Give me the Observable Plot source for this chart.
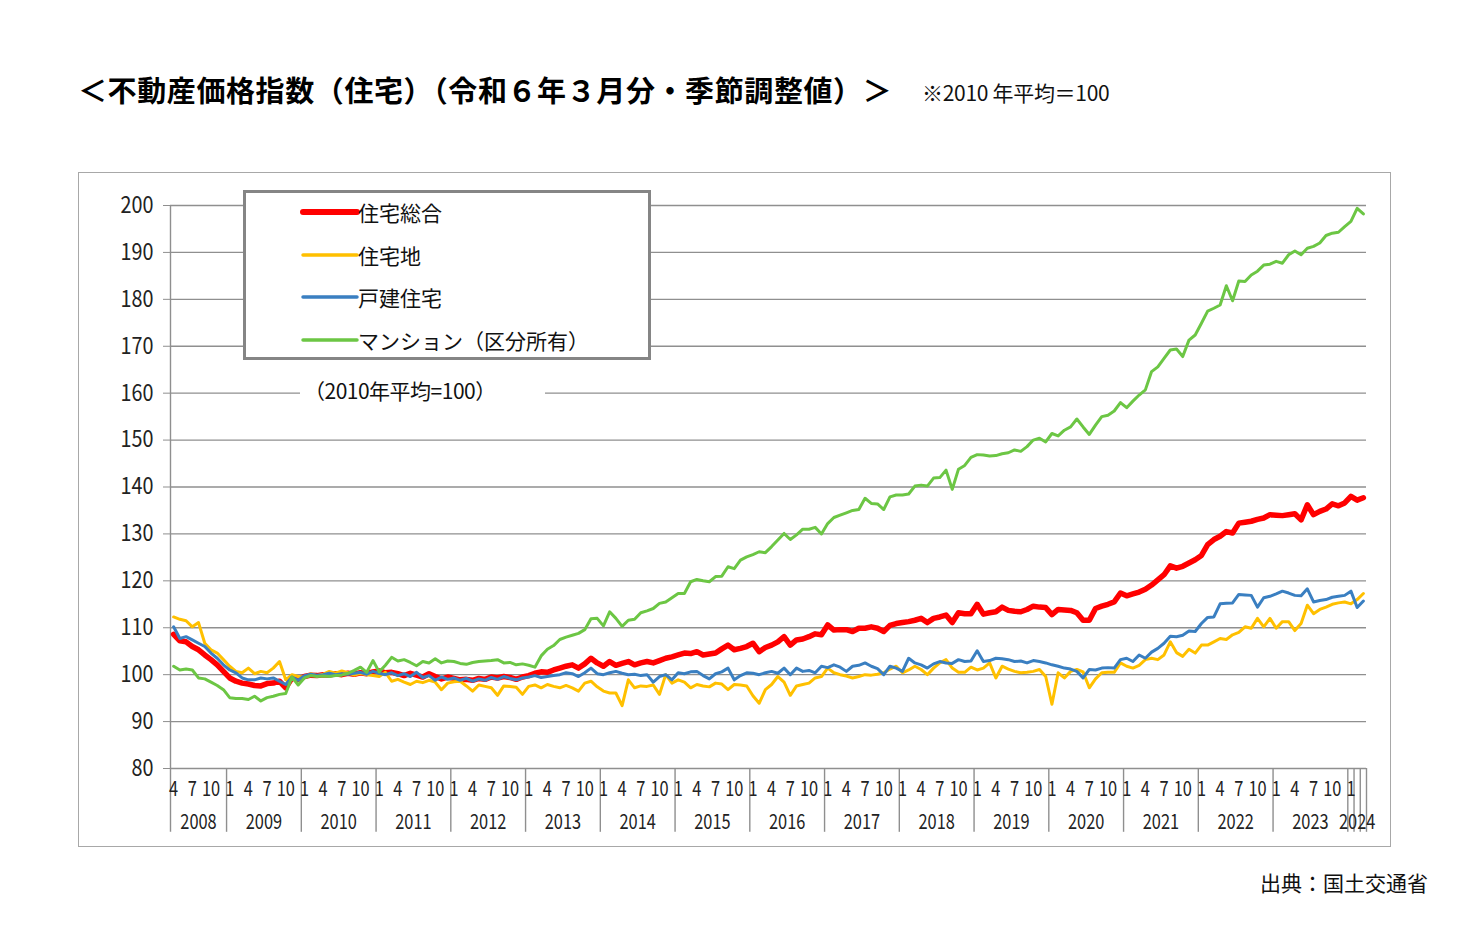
<!DOCTYPE html>
<html>
<head>
<meta charset="utf-8">
<script src="https://cdn.jsdelivr.net/npm/d3@7"></script>
<script src="https://cdn.jsdelivr.net/npm/@observablehq/plot@0.6"></script>
<style>
  body { margin: 0; background: #fff; }
  #page { position: relative; width: 1470px; height: 930px; overflow: hidden; background: #fff; color: #111;
          font-family: "Noto Sans CJK JP", sans-serif; }
  #title { position: absolute; left: 78px; top: 69px; font-family: "Noto Sans CJK JP", sans-serif; font-weight: bold;
           font-size: 29px; line-height: 40px; letter-spacing: 0.6px; white-space: nowrap; color: #000; }
  #note { position: absolute; left: 922px; top: 77px; font-size: 21px; line-height: 30px; white-space: nowrap; letter-spacing: -0.3px; }
  #chart { position: absolute; left: 78px; top: 172px; width: 1313px; height: 675px; }
  #frame { position: absolute; left: 78px; top: 172px; width: 1313px; height: 675px; box-sizing: border-box;
           border: 1.5px solid #a8a8a8; pointer-events: none; }
  #legend { position: absolute; left: 243px; top: 190px; width: 408px; height: 170px; box-sizing: border-box;
            border: 3px solid #858585; background: #fff; }
  .lg-item { position: absolute; left: 0; height: 30px; width: 400px; }
  .lg-item svg { position: absolute; left: 54px; top: 0; }
  .lg-item span { position: absolute; left: 112px; top: 0; font-size: 21px; line-height: 30px; white-space: nowrap; }
  #base { position: absolute; left: 300px; top: 376px; width: 245px; height: 28px; background: #fff; }
  #base span { position: absolute; left: 4px; top: 0; font-size: 21px; line-height: 28px; white-space: nowrap; letter-spacing: -0.5px; }
  #source { position: absolute; left: 1260px; top: 867px; font-size: 21px; line-height: 30px; white-space: nowrap; }
</style>
</head>
<body>
<div id="page">
  <div id="title">＜不動産価格指数（住宅）（令和６年３月分・季節調整値）＞</div>
  <div id="note">※2010 年平均＝100</div>
  <div id="chart"></div>
  <div id="frame"></div>
  <div id="legend"></div>
  <div id="base"><span>（2010年平均=100）</span></div>
  <div id="source">出典：国土交通省</div>
</div>
<script>
// ---- data (monthly, Apr 2008 – Mar 2024, seasonally adjusted, 2010 avg = 100) ----
const startYear = 2008;
const startMonth = 4;

const sogo = [
  108.6,107.2,107.0,106.0,105.3,104.2,103.2,102.1,100.7,99.3,98.6,98.2,
  98.0,97.7,97.6,98.1,98.2,98.6,97.2,99.3,99.0,99.6,99.9,99.8,
  100.0,99.9,100.2,100.0,100.3,100.1,100.4,100.2,100.6,100.8,100.4,100.5,
  100.2,99.8,100.3,99.9,99.5,100.2,99.6,99.1,99.5,99.2,98.9,99.0,
  98.8,99.2,99.0,99.5,99.3,99.6,99.4,99.0,99.5,99.8,100.3,100.6,
  100.5,101.0,101.4,101.8,102.1,101.4,102.3,103.5,102.5,101.8,102.8,102.0,
  102.4,102.8,102.1,102.5,102.8,102.5,103.0,103.5,103.8,104.2,104.6,104.5,
  104.9,104.2,104.4,104.6,105.5,106.3,105.3,105.6,106.0,106.7,104.9,105.8,
  106.3,107.0,108.1,106.3,107.4,107.6,108.1,108.7,108.5,110.6,109.5,109.6,
  109.6,109.2,109.9,109.9,110.2,109.9,109.2,110.5,110.9,111.1,111.3,111.6,
  112.0,111.1,112.0,112.3,112.7,111.1,113.2,113.0,113.0,115.0,112.9,113.2,
  113.4,114.4,113.7,113.5,113.4,113.9,114.6,114.4,114.3,112.8,113.9,113.8,
  113.7,113.2,111.6,111.6,114.1,114.6,115.0,115.5,117.4,116.8,117.2,117.6,
  118.2,119.1,120.2,121.3,123.2,122.7,123.1,123.8,124.5,125.4,127.7,128.8,
  129.5,130.5,130.2,132.3,132.5,132.7,133.1,133.4,134.1,134.0,133.9,134.1,
  134.3,133.0,136.2,134.1,134.8,135.3,136.4,136.0,136.6,138.0,137.2,137.7
];
const takuchi = [
  112.3,111.8,111.5,110.2,111.1,106.7,105.3,104.6,103.2,101.8,100.7,100.4,
  101.4,100.2,100.7,100.4,101.4,102.8,98.9,100.0,99.6,99.5,100.2,99.8,
  100.1,100.7,100.3,100.8,100.4,99.9,100.3,100.0,99.8,99.6,100.5,98.6,
  99.0,98.4,97.9,98.6,98.3,98.8,98.4,96.8,98.2,98.5,98.6,97.6,
  96.5,97.8,97.5,97.2,95.6,97.6,97.5,97.3,95.8,97.5,97.8,97.2,
  97.9,97.5,97.2,97.7,97.2,96.5,98.2,98.6,97.4,96.5,96.1,96.1,
  93.4,98.9,97.2,97.6,97.5,97.8,95.8,100.0,98.2,98.9,98.4,97.2,
  97.9,97.6,97.4,98.2,98.0,96.8,97.9,97.8,97.6,95.5,93.9,96.8,
  97.9,99.6,98.4,95.6,97.6,97.9,98.2,99.3,99.6,101.4,100.4,100.0,
  99.7,99.3,99.6,100.0,99.9,100.1,100.4,101.2,101.8,100.4,101.0,101.8,
  101.1,100.0,101.4,102.5,103.2,101.4,100.5,100.5,101.6,101.0,101.4,102.5,
  99.3,101.8,101.2,100.7,100.4,100.5,100.7,101.1,99.6,93.7,100.4,99.3,
  100.7,101.1,100.6,97.2,99.1,100.4,100.5,100.5,102.5,101.8,101.4,102.0,
  103.2,103.5,103.2,104.2,107.0,104.7,103.9,105.4,104.6,106.3,106.3,107.0,
  107.7,107.5,108.5,109.0,110.2,109.9,112.0,110.2,112.0,109.9,111.3,111.3,
  109.4,110.9,114.8,113.0,113.9,114.4,115.0,115.3,115.5,115.1,116.0,117.3
];
const kodate = [
  110.2,107.7,108.1,107.4,106.7,106.0,104.6,103.5,102.1,101.0,100.4,99.3,
  98.9,98.9,99.3,99.1,99.3,98.6,97.9,99.5,98.8,99.8,100.1,99.9,
  100.0,100.3,100.0,100.2,100.1,100.3,100.5,100.1,100.7,100.3,100.0,100.4,
  99.8,100.2,99.6,100.5,99.4,99.8,98.8,99.5,99.0,99.3,98.8,99.2,
  98.6,99.1,98.8,99.4,99.0,99.6,99.2,98.9,99.3,99.5,99.8,99.4,
  99.6,99.8,100.0,100.4,100.2,99.6,100.4,101.4,100.2,100.0,100.4,100.7,
  100.3,100.0,100.1,99.8,100.0,98.4,99.6,100.0,98.9,100.4,100.2,100.6,
  100.7,99.8,99.1,100.2,100.6,101.4,98.9,99.8,100.4,100.3,100.0,100.4,
  100.7,100.3,101.4,100.0,101.4,100.7,100.9,100.4,101.8,101.5,102.1,101.6,
  100.7,101.8,102.0,102.5,101.8,101.3,100.0,101.8,101.4,100.7,103.5,102.5,
  102.1,101.4,102.3,102.8,102.5,102.4,103.2,102.8,102.9,105.1,102.8,103.0,
  103.5,103.4,103.2,102.8,102.9,102.5,103.0,102.8,102.5,102.1,101.8,101.4,
  101.2,100.7,99.3,101.1,101.0,101.4,101.5,101.4,103.2,103.5,102.8,104.2,
  103.5,104.8,105.6,106.7,108.2,108.1,108.4,109.3,109.2,110.9,112.2,112.3,
  115.1,115.2,115.3,117.1,117.0,116.9,114.4,116.4,116.7,117.2,117.8,117.4,
  116.9,116.8,118.3,115.5,115.8,116.0,116.5,116.7,116.9,117.8,114.3,115.7
];
const mansion = [
  101.8,101.0,101.2,101.0,99.3,99.1,98.4,97.7,96.8,95.1,94.9,94.9,
  94.7,95.4,94.4,95.1,95.4,95.8,96.0,99.5,97.8,99.3,99.8,99.6,
  99.7,99.6,99.8,99.9,100.3,100.9,101.6,100.5,103.0,100.6,102.0,103.7,
  102.9,103.2,102.6,101.9,102.8,102.5,103.4,102.5,102.9,102.8,102.4,102.2,
  102.6,102.8,102.9,103.0,103.2,102.5,102.6,102.1,102.3,102.0,101.6,104.0,
  105.4,106.2,107.5,108.0,108.4,108.8,109.6,111.9,112.0,110.4,113.4,112.0,
  110.3,111.6,111.8,113.2,113.6,114.1,115.2,115.5,116.4,117.3,117.3,119.8,
  120.3,120.0,119.8,120.9,121.0,123.0,122.6,124.4,125.1,125.6,126.2,126.0,
  127.3,128.7,130.1,128.8,129.8,131.0,131.0,131.4,130.0,132.2,133.5,134.0,
  134.5,135.0,135.2,137.6,136.5,136.4,135.2,137.9,138.3,138.3,138.5,140.2,
  140.4,140.2,141.9,142.0,143.6,139.5,143.8,144.6,146.3,146.9,146.8,146.6,
  146.7,147.1,147.3,147.9,147.6,148.6,150.0,150.4,149.6,151.4,150.9,152.1,
  152.8,154.5,152.8,151.2,153.2,155.0,155.3,156.2,158.0,156.9,158.3,159.6,
  160.7,164.6,165.6,167.4,169.2,169.4,167.8,171.3,172.4,174.9,177.5,178.1,
  178.8,182.9,179.7,183.9,183.8,185.2,186.0,187.3,187.5,188.1,187.7,189.5,
  190.3,189.5,190.9,191.3,192.0,193.6,194.1,194.3,195.5,196.6,199.4,198.2
];

const seriesNames = ["住宅総合", "住宅地", "戸建住宅", "マンション（区分所有）"];
const seriesValues = [sogo, takuchi, kodate, mansion];
const seriesColors = ["#ff0000", "#ffc000", "#3a7fc1", "#6cc644"];
const seriesWidths = [5.5, 3, 3, 3];

const yTicks = [80, 90, 100, 110, 120, 130, 140, 150, 160, 170, 180, 190, 200];
const monthTickLabels = [1, 4, 7, 10];
const yearLabels = [2008, 2009, 2010, 2011, 2012, 2013, 2014, 2015, 2016, 2017, 2018, 2019, 2020, 2021, 2022, 2023, 2024];

// ---- derived tables ----
const nMonths = sogo.length;
const monthOf = i => ((startMonth - 1 + i) % 12) + 1;

const monthRows = d3.range(nMonths)
  .filter(i => monthTickLabels.includes(monthOf(i)))
  .map(i => ({x: i + 0.5, label: String(monthOf(i))}));

const yearRows = yearLabels.map(y => {
  const s = Math.max(0, (y - startYear) * 12 - (startMonth - 1));
  const e = Math.min(nMonths, (y - startYear + 1) * 12 - (startMonth - 1));
  return {x: (s + e) / 2, label: String(y), s, e};
});
// boundaries between years, plus monthly separators for the partial last year
const separators = yearRows.slice(1).map(d => d.s);
const last = yearRows[yearRows.length - 1];
for (let k = last.s + 1; k <= last.e; k++) separators.push(k);

const lineData = seriesNames.map((name, k) =>
  seriesValues[k].map((v, i) => ({x: i + 0.5, v, name})));

const yLow = 66.4; // bottom of the category label area, in value units

const chart = Plot.plot({
  width: 1313,
  height: 675,
  marginLeft: 92,
  marginRight: 25,
  marginTop: 33,
  marginBottom: 79,
  x: {domain: [0, nMonths], axis: null},
  y: {domain: [80, 200], axis: null},
  style: {fontFamily: "'Noto Sans CJK JP', sans-serif", background: "transparent", color: "#222", overflow: "visible"},
  marks: [
    Plot.gridY(yTicks, {stroke: "#8f8f8f", strokeOpacity: 1, strokeWidth: 1.4}),
    Plot.ruleX([0], {y1: yLow, y2: 200, stroke: "#8f8f8f", strokeWidth: 1.4}),
    Plot.ruleX(separators, {x: d => d, y1: yLow, y2: 80, stroke: "#8f8f8f", strokeWidth: 1.4}),
    Plot.axisY(yTicks, {label: null, tickSize: 7, tickPadding: 10, fontSize: 23, stroke: "#8f8f8f", fill: "#222", className: "narrow-y"}),
    Plot.text(monthRows, {x: "x", y: 80, text: "label", dy: 21, fontSize: 21, fill: "#222", className: "narrow-x"}),
    Plot.text(yearRows, {x: "x", y: 80, text: "label", dy: 54, fontSize: 21, fill: "#222", className: "narrow-x"}),
    ...lineData.map((rows, k) => Plot.line(rows, {
      x: "x", y: "v", stroke: seriesColors[k], strokeWidth: seriesWidths[k],
      strokeLinejoin: "round", strokeLinecap: "round"
    }))
  ]
});
// narrow the numerals like the original's condensed font
d3.select(chart).selectAll(".narrow-x text").each(function() {
  const t = this.getAttribute("transform") || "";
  this.setAttribute("transform", t + " scale(0.78,1)");
});
d3.select(chart).selectAll(".narrow-y text").each(function() {
  const t = this.getAttribute("transform") || "";
  this.setAttribute("transform", t + " scale(0.86,1)");
});
document.getElementById("chart").appendChild(chart);

// ---- legend ----
const legend = document.getElementById("legend");
const legendTops = [4, 47, 89, 132];
seriesNames.forEach((name, k) => {
  const item = document.createElement("div");
  item.className = "lg-item";
  item.style.top = legendTops[k] + "px";
  item.innerHTML = `<svg width="60" height="30"><line x1="3" y1="15" x2="57" y2="15" stroke="${seriesColors[k]}" stroke-width="${k === 0 ? 6 : 3.5}" stroke-linecap="round"/></svg><span>${name}</span>`;
  legend.appendChild(item);
});
</script>
</body>
</html>
